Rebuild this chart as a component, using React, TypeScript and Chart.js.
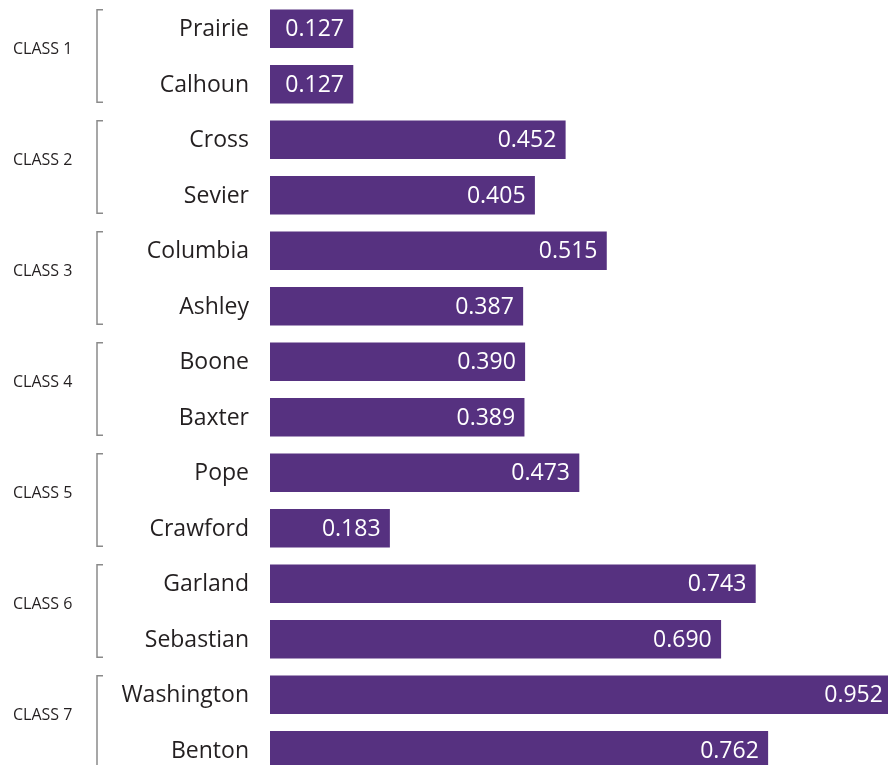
import React, { useEffect, useRef } from "react";
import { Chart, registerables } from "chart.js";

Chart.register(...registerables);

const counties = [
  "Prairie", "Calhoun", "Cross", "Sevier", "Columbia", "Ashley", "Boone",
  "Baxter", "Pope", "Crawford", "Garland", "Sebastian", "Washington", "Benton",
];
const values = [
  0.127, 0.127, 0.452, 0.405, 0.515, 0.387, 0.39, 0.389, 0.473, 0.183, 0.743,
  0.69, 0.952, 0.762,
];
const classLabels = ["CLASS 1", "CLASS 2", "CLASS 3", "CLASS 4", "CLASS 5", "CLASS 6", "CLASS 7"];

const FONT = "'Open Sans', sans-serif";
const BAR = "#563180";
const TEXT = "#231f20";

const overlayPlugin = {
  id: "overlay",
  afterDatasetsDraw(chart: any) {
    const ctx = chart.ctx;
    const meta = chart.getDatasetMeta(0);
    const yScale = chart.scales.y;
    const left = chart.chartArea.left;
    ctx.save();
    // county labels
    ctx.fillStyle = TEXT;
    ctx.font = `23px ${FONT}`;
    ctx.textAlign = "right";
    ctx.textBaseline = "middle";
    chart.data.labels.forEach((lab: string, i: number) => {
      ctx.fillText(lab, left - 21, yScale.getPixelForValue(i) + 1);
    });
    // value labels
    ctx.fillStyle = "#ffffff";
    ctx.font = `23px ${FONT}`;
    ctx.textAlign = "right";
    ctx.textBaseline = "middle";
    meta.data.forEach((el: any, i: number) => {
      ctx.fillText(values[i].toFixed(3), el.x - 9, el.y + 1);
    });
    // class brackets
    classLabels.forEach((lab, g) => {
      const y0 = yScale.getPixelForValue(g * 2) - 19;
      const y1 = yScale.getPixelForValue(g * 2 + 1) + 18;
      const x = 97;
      ctx.strokeStyle = "#8a8a8a";
      ctx.lineWidth = 1.5;
      ctx.beginPath();
      ctx.moveTo(x + 6, y0);
      ctx.lineTo(x, y0);
      ctx.lineTo(x, y1);
      ctx.lineTo(x + 6, y1);
      ctx.stroke();
      ctx.fillStyle = TEXT;
      ctx.font = `16px ${FONT}`;
      ctx.textAlign = "left";
      ctx.textBaseline = "middle";
      ctx.fillText(lab, 13, (y0 + y1) / 2 - 7);
    });
    ctx.restore();
  },
};

export default function App() {
  const ref = useRef<HTMLCanvasElement>(null);
  useEffect(() => {
    if (!ref.current) return;
    const chart = new Chart(ref.current, {
      type: "bar",
      data: {
        labels: counties,
        datasets: [
          {
            data: values,
            backgroundColor: BAR,
            barThickness: 38,
            borderWidth: 0,
          },
        ],
      },
      options: {
        indexAxis: "y",
        animation: false,
        responsive: false,
        maintainAspectRatio: false,
        layout: { padding: { top: 1, bottom: 1, left: 270, right: 0 } },
        plugins: { legend: { display: false }, tooltip: { enabled: false } },
        scales: {
          x: { display: false, min: 0, max: 0.946 },
          y: { display: false, offset: true },
        },
      },
      plugins: [overlayPlugin],
    });
    return () => chart.destroy();
  }, []);
  return (
    <div style={{ position: "absolute", left: 0, top: 0, width: 888, height: 765, overflow: "hidden", background: "#fff" }}>
      <canvas ref={ref} width={888} height={779} style={{ display: "block" }} />
    </div>
  );
}
